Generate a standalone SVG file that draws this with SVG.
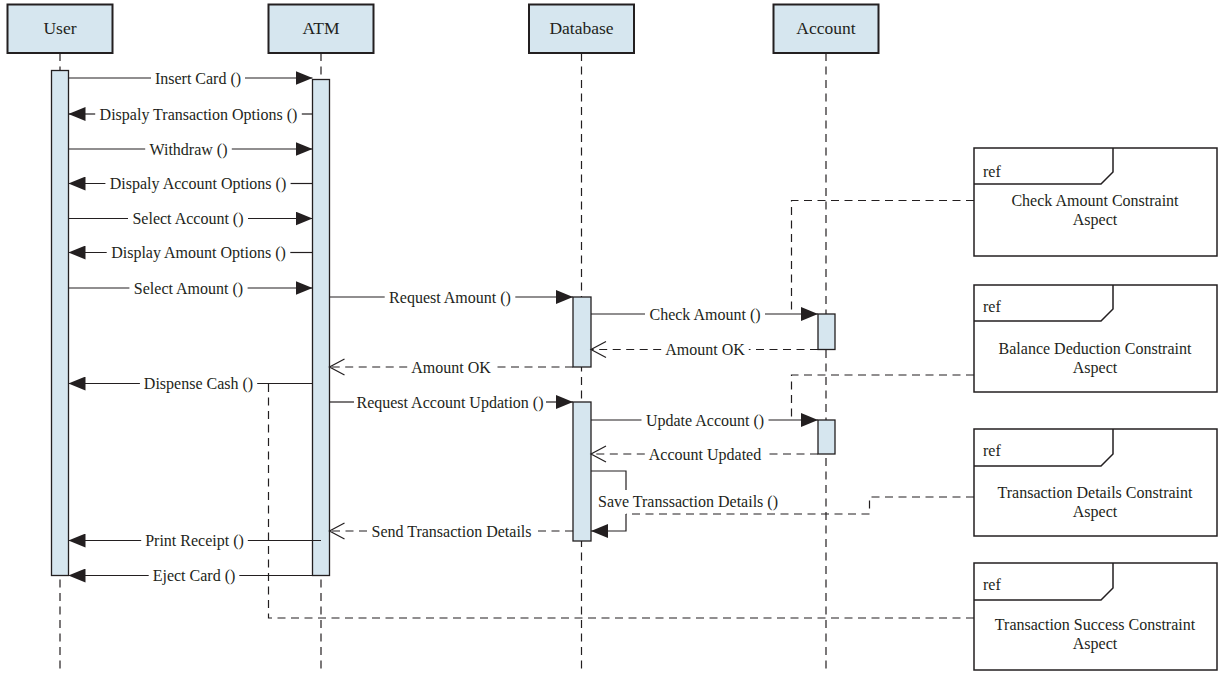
<svg xmlns="http://www.w3.org/2000/svg" width="1219" height="673" viewBox="0 0 1219 673">
  <style>
    .hdr { fill: #d6e6ef; stroke: #231f20; stroke-width: 2; }
    .act { fill: #d6e6ef; stroke: #231f20; stroke-width: 1.3; }
    .life { fill: none; stroke: #231f20; stroke-width: 1.2; stroke-dasharray: 8 5.5; }
    .msg { fill: none; stroke: #231f20; stroke-width: 1.2; }
    .ret { fill: none; stroke: #231f20; stroke-width: 1.2; stroke-dasharray: 8 5.5; }
    .link { fill: none; stroke: #231f20; stroke-width: 1.2; stroke-dasharray: 8 5.5; }
    .frame { fill: #ffffff; stroke: #231f20; stroke-width: 1.5; }
    .tab { fill: none; stroke: #231f20; stroke-width: 1.5; }
    text { font-family: "Liberation Serif", "Times New Roman", serif; fill: #231f20; }
    .ht { font-size: 17.5px; text-anchor: middle; }
    .lbl { font-size: 16px; text-anchor: middle; }
    .rt { font-size: 16px; }
    .rc { font-size: 16px; text-anchor: middle; }
  </style>
  <defs>
    <marker id="solid" viewBox="0 0 17 14" refX="17" refY="7" markerWidth="17" markerHeight="14" markerUnits="userSpaceOnUse" orient="auto">
      <path d="M0,0 L17,7 L0,14 Z" fill="#231f20"/>
    </marker>
    <marker id="open" viewBox="-1 -1 17 18" refX="15" refY="8" markerWidth="17" markerHeight="18" markerUnits="userSpaceOnUse" orient="auto" overflow="visible">
      <path d="M0,0 L15,8 L0,16" fill="none" stroke="#231f20" stroke-width="1.2"/>
    </marker>
  </defs>

  <rect width="1219" height="673" fill="#ffffff"/>

  <!-- lifelines -->
  <g id="user">
    <line class="life" x1="60" y1="53" x2="60" y2="673"/>
    <rect class="hdr" x="7.5" y="4.5" width="105" height="48.5"/>
    <text class="ht" x="60" y="34">User</text>
    <rect class="act" x="51.5" y="70.5" width="17" height="505"/>
  </g>
  <g id="atm">
    <line class="life" x1="321" y1="53" x2="321" y2="673"/>
    <rect class="hdr" x="268.5" y="4.5" width="105" height="48.5"/>
    <text class="ht" x="321" y="34">ATM</text>
    <rect class="act" x="312.5" y="79.5" width="17" height="496"/>
  </g>
  <g id="database">
    <line class="life" x1="581.5" y1="53" x2="581.5" y2="673"/>
    <rect class="hdr" x="529" y="4.5" width="105" height="48.5"/>
    <text class="ht" x="581.5" y="34">Database</text>
    <rect class="act" x="573" y="297" width="18" height="70"/>
    <rect class="act" x="573" y="402" width="18" height="139"/>
  </g>
  <g id="account">
    <line class="life" x1="826" y1="53" x2="826" y2="673"/>
    <rect class="hdr" x="773.5" y="4.5" width="105" height="48.5"/>
    <text class="ht" x="826" y="34">Account</text>
    <rect class="act" x="818" y="314" width="17" height="35.5"/>
    <rect class="act" x="818" y="420" width="17" height="34"/>
  </g>

  <!-- interaction references -->
  <g id="ref-check-amount">
    <rect class="frame" x="974" y="148" width="243" height="108"/>
    <path class="tab" d="M974,184 H1101 L1113,172 V148"/>
    <text class="rt" x="983" y="177">ref</text>
    <text class="rc" x="1095" y="205.5">Check Amount Constraint</text>
    <text class="rc" x="1095" y="224.5">Aspect</text>
  </g>
  <g id="ref-balance-deduction">
    <rect class="frame" x="974" y="285" width="243" height="107"/>
    <path class="tab" d="M974,321 H1101 L1113,309 V285"/>
    <text class="rt" x="983" y="312">ref</text>
    <text class="rc" x="1095" y="353.5">Balance Deduction Constraint</text>
    <text class="rc" x="1095" y="372.5">Aspect</text>
  </g>
  <g id="ref-transaction-details">
    <rect class="frame" x="974" y="429" width="243" height="107"/>
    <path class="tab" d="M974,466 H1101 L1113,454 V429"/>
    <text class="rt" x="983" y="455.5">ref</text>
    <text class="rc" x="1095" y="497.5">Transaction Details Constraint</text>
    <text class="rc" x="1095" y="517">Aspect</text>
  </g>
  <g id="ref-transaction-success">
    <rect class="frame" x="974" y="563" width="243" height="107"/>
    <path class="tab" d="M974,600 H1101 L1113,588 V563"/>
    <text class="rt" x="983" y="590">ref</text>
    <text class="rc" x="1095" y="629.5">Transaction Success Constraint</text>
    <text class="rc" x="1095" y="648.5">Aspect</text>
  </g>

  <!-- messages and reference links -->
  <g id="connectors">
    <!-- User -> ATM / ATM -> User -->
    <line class="msg" x1="68.5" y1="78" x2="151" y2="78"/>
    <line class="msg" x1="245" y1="78" x2="312.5" y2="78" marker-end="url(#solid)"/>
    <text class="lbl" x="198" y="83.5">Insert Card ()</text>

    <line class="msg" x1="312.5" y1="114" x2="301.8" y2="114"/>
    <line class="msg" x1="95.2" y1="114" x2="68.5" y2="114" marker-end="url(#solid)"/>
    <text class="lbl" x="198.5" y="119.5">Dispaly Transaction Options ()</text>

    <line class="msg" x1="68.5" y1="149" x2="145.2" y2="149"/>
    <line class="msg" x1="231.8" y1="149" x2="312.5" y2="149" marker-end="url(#solid)"/>
    <text class="lbl" x="188.5" y="154.5">Withdraw ()</text>

    <line class="msg" x1="312.5" y1="183.5" x2="290.6" y2="183.5"/>
    <line class="msg" x1="105.4" y1="183.5" x2="68.5" y2="183.5" marker-end="url(#solid)"/>
    <text class="lbl" x="198" y="189">Dispaly Account Options ()</text>

    <line class="msg" x1="68.5" y1="218.5" x2="128" y2="218.5"/>
    <line class="msg" x1="248" y1="218.5" x2="312.5" y2="218.5" marker-end="url(#solid)"/>
    <text class="lbl" x="188" y="224">Select Account ()</text>

    <line class="msg" x1="312.5" y1="252.5" x2="290.3" y2="252.5"/>
    <line class="msg" x1="106.7" y1="252.5" x2="68.5" y2="252.5" marker-end="url(#solid)"/>
    <text class="lbl" x="198.5" y="258">Display Amount Options ()</text>

    <line class="msg" x1="68.5" y1="288" x2="129.4" y2="288"/>
    <line class="msg" x1="247.6" y1="288" x2="312.5" y2="288" marker-end="url(#solid)"/>
    <text class="lbl" x="188.5" y="293.5">Select Amount ()</text>

    <!-- ATM -> Database -->
    <line class="msg" x1="329.5" y1="297" x2="384.7" y2="297"/>
    <line class="msg" x1="515.3" y1="297" x2="573" y2="297" marker-end="url(#solid)"/>
    <text class="lbl" x="450" y="302.5">Request Amount ()</text>

    <!-- Database -> Account -->
    <line class="msg" x1="591" y1="314" x2="645" y2="314"/>
    <line class="msg" x1="765" y1="314" x2="818" y2="314" marker-end="url(#solid)"/>
    <text class="lbl" x="705" y="319.5">Check Amount ()</text>

    <line class="ret" x1="818" y1="349.5" x2="748.8" y2="349.5"/>
    <line class="ret" x1="661.2" y1="349.5" x2="591" y2="349.5" marker-end="url(#open)"/>
    <text class="lbl" x="705" y="355">Amount OK</text>

    <line class="ret" x1="573" y1="367" x2="494.8" y2="367"/>
    <line class="ret" x1="407.2" y1="367" x2="329.5" y2="367" marker-end="url(#open)"/>
    <text class="lbl" x="451" y="372.5">Amount OK</text>

    <line class="msg" x1="312.5" y1="383.5" x2="257.2" y2="383.5"/>
    <line class="msg" x1="139.9" y1="383.5" x2="68.5" y2="383.5" marker-end="url(#solid)"/>
    <text class="lbl" x="198.5" y="389">Dispense Cash ()</text>

    <line class="msg" x1="329.5" y1="402" x2="354" y2="402"/>
    <line class="msg" x1="546" y1="402" x2="573" y2="402" marker-end="url(#solid)"/>
    <text class="lbl" x="450" y="407.5">Request Account Updation ()</text>

    <line class="msg" x1="591" y1="420" x2="641.5" y2="420"/>
    <line class="msg" x1="768.5" y1="420" x2="818" y2="420" marker-end="url(#solid)"/>
    <text class="lbl" x="705" y="425.5">Update Account ()</text>

    <line class="ret" x1="818" y1="454" x2="765.2" y2="454"/>
    <line class="ret" x1="644.8" y1="454" x2="591" y2="454" marker-end="url(#open)"/>
    <text class="lbl" x="705" y="459.5">Account Updated</text>

    <!-- self call on Database -->
    <path class="msg" d="M591,471 H626 V490"/>
    <path class="msg" d="M626,514 V531 H591" marker-end="url(#solid)"/>
    <text class="rt" x="598" y="507">Save Transsaction Details ()</text>

    <line class="ret" x1="573" y1="531" x2="536" y2="531"/>
    <line class="ret" x1="367" y1="531" x2="329.5" y2="531" marker-end="url(#open)"/>
    <text class="lbl" x="451.5" y="536.5">Send Transaction Details</text>

    <line class="msg" x1="321" y1="540.5" x2="247.8" y2="540.5"/>
    <line class="msg" x1="141.2" y1="540.5" x2="68.5" y2="540.5" marker-end="url(#solid)"/>
    <text class="lbl" x="194.5" y="546">Print Receipt ()</text>

    <line class="msg" x1="312.5" y1="575.5" x2="239.3" y2="575.5"/>
    <line class="msg" x1="148.7" y1="575.5" x2="68.5" y2="575.5" marker-end="url(#solid)"/>
    <text class="lbl" x="194" y="581">Eject Card ()</text>

    <!-- links to interaction references -->
    <path class="link" d="M974,200.5 H791.5 V314"/>
    <path class="link" d="M974,375 H791.5 V420"/>
    <path class="link" d="M974,497 H869.5 V514 H626"/>
    <path class="link" d="M974,618 H268.5 V383.5"/>
  </g>
</svg>
